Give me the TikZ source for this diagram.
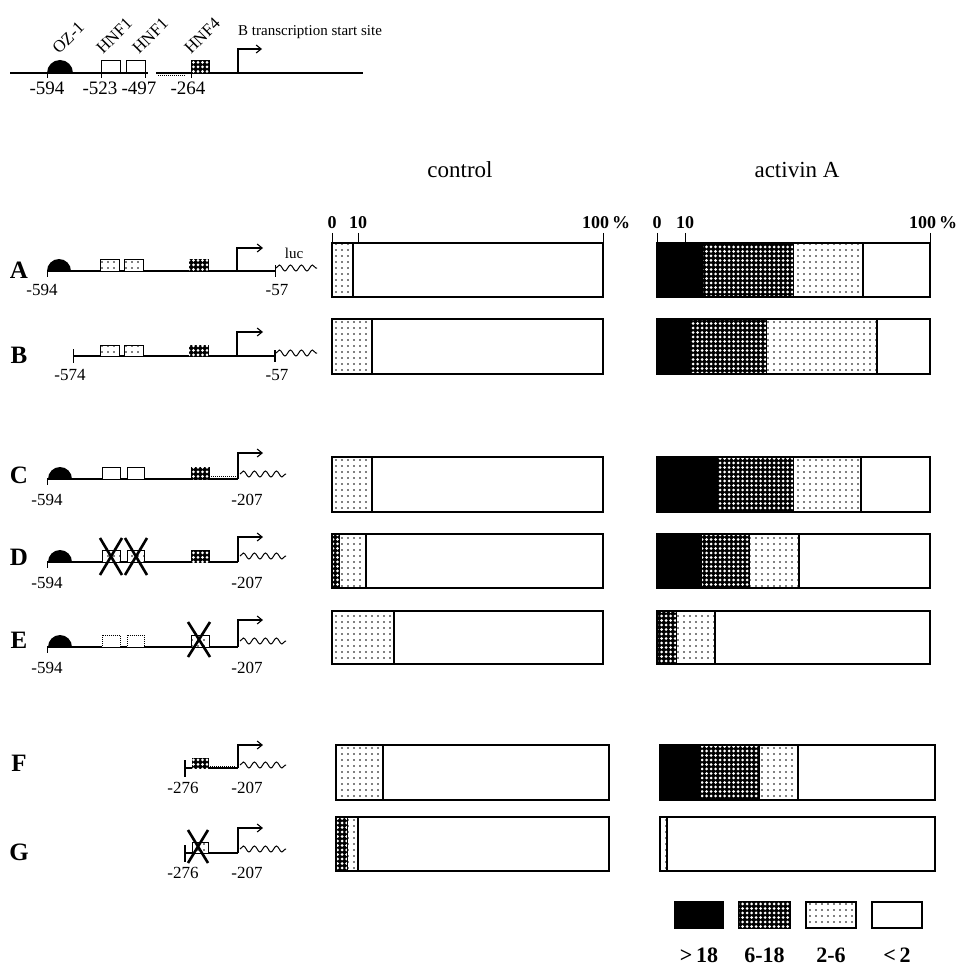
\documentclass[tikz,border=0pt]{standalone}
\usepackage{fontspec}
\setmainfont{Liberation Serif}
\usetikzlibrary{patterns.meta, decorations.pathmorphing, arrows.meta}

\begin{document}
\begin{tikzpicture}[x=1pt, y=-1pt,
  blkfill/.style={fill=black},
  dkfill/.style={fill=black, postaction={pattern={Dots[distance=4.5pt, radius=1.5pt]}, pattern color=white}},
  ltfill/.style={fill=white, postaction={pattern={Dots[distance=6pt, radius=0.85pt]}, pattern color=black}},
  whfill/.style={fill=white},
  dna/.style={line width=1.2pt},
  tss/.style={line width=1.1pt, -{Straight Barb[length=5pt, width=8pt]}},
  luc/.style={line width=1pt, decorate, decoration={snake, segment length=11pt, amplitude=3pt}},
  knock/.style={line width=2.6pt},
  sitelab/.style={inner sep=0, font=\fontsize{17}{17}\selectfont},
  rowlab/.style={font=\fontsize{25}{25}\selectfont\bfseries},
  scalelab/.style={inner sep=0, font=\fontsize{18}{18}\selectfont\bfseries},
  head/.style={font=\fontsize{23}{23}\selectfont}]
  \useasboundingbox (0,0) rectangle (964,976);

  % promoter map
  \draw[dna] (10,73) -- (148,73) (156,73) -- (363,73);
  \draw[densely dotted, line width=1pt] (158,76) -- (186,76);
  \fill (47,73) arc[start angle=180, end angle=360, radius=13];
  \foreach \x in {47,101,145,191}
    \draw[line width=1pt] (\x,73) -- (\x,78);
  \draw[whfill, line width=1pt] (101,61) rectangle (120,73);
  \draw[whfill, line width=1pt] (126,61) rectangle (145,73);
  \draw[dkfill, line width=1pt] (191,61) rectangle (209,73);
  \draw[tss] (238,73) -- (238,49) -- (262,49);
  \node[anchor=west, inner sep=0, font=\fontsize{15}{15}\selectfont] (tsslab) at (238,32) {B transcription start site};
  \foreach \x/\name/\txt in {59/oz/OZ-1, 103/hnfa/HNF1, 139/hnfb/HNF1, 191/hnfc/HNF4}
    \node[anchor=base west, inner sep=0, rotate=45, font=\fontsize{17}{17}\selectfont] (\name) at (\x,55) {\txt};
  \foreach \x/\txt [count=\i] in {47/-594, 100/-523, 139/-497, 188/-264}
    \node[sitelab, font=\fontsize{19}{19}\selectfont] (top\i) at (\x,88) {\txt};

  % column headers and scales
  \node[head] (control) at (460,170) {control};
  \node[head] (activin) at (797,170) {activin A};
  \foreach \xa/\xb/\xc/\name in {332/358/603/ctl, 657/685/930/act} {
    \draw[line width=1pt] (\xa,233) -- (\xa,243) (\xb,233) -- (\xb,243) (\xc,233) -- (\xc,243);
    \node[scalelab] (\name0) at (\xa,223) {0};
    \node[scalelab] (\name10) at (\xb,223) {10};
    \node[scalelab, anchor=west] (\name100) at (\xc-21,223) {100\,\%};
  }

  % row labels
  \foreach \y/\txt in {270/A, 355/B, 475/C, 557/D, 640/E, 763/F, 852/G}
    \node[rowlab] (row\txt) at (19,\y) {\txt};

  % bar segments
  \foreach \ya/\yb/\xa/\xb/\kind in {
      243/297/332/353/ltfill, 319/374/332/372/ltfill, 457/512/332/372/ltfill,
      534/588/332/340/dkfill, 534/588/340/366/ltfill, 611/664/332/394/ltfill,
      745/800/336/383/ltfill, 817/871/336/348/dkfill, 817/871/348/358/ltfill,
      243/297/657/703/blkfill, 243/297/703/794/dkfill, 243/297/794/863/ltfill,
      319/374/657/690/blkfill, 319/374/690/767/dkfill, 319/374/767/877/ltfill,
      457/512/657/718/blkfill, 457/512/718/794/dkfill, 457/512/794/861/ltfill,
      534/588/657/702/blkfill, 534/588/702/750/dkfill, 534/588/750/799/ltfill,
      611/664/657/677/dkfill, 611/664/677/715/ltfill,
      745/800/660/701/blkfill, 745/800/701/760/dkfill, 745/800/760/798/ltfill,
      817/871/660/667/ltfill}
    {\path[\kind] (\xa,\ya) rectangle (\xb,\yb);
     \draw[line width=1.4pt] (\xb,\ya) -- (\xb,\yb);}
  \draw[line width=2.4pt] (353,243) -- (353,297) (366,534) -- (366,588) (877,319) -- (877,374);

  % bar frames
  \foreach \ya/\yb in {243/297, 319/374, 457/512, 534/588, 611/664}
    \draw[line width=1.4pt] (332,\ya) rectangle (603,\yb) (657,\ya) rectangle (930,\yb);
  \foreach \ya/\yb in {745/800, 817/871}
    \draw[line width=1.4pt] (336,\ya) rectangle (609,\yb) (660,\ya) rectangle (935,\yb);

  % construct A
  \draw[dna] (47,271) -- (275,271);
  \draw[line width=1pt] (47,271) -- (47,277) (275,265) -- (275,277);
  \fill (47,271) arc[start angle=180, end angle=360, radius=12];
  \draw[ltfill, line width=1pt] (100,259) rectangle (119,271);
  \draw[ltfill, line width=1pt] (124,259) rectangle (143,271);
  \draw[dkfill, line width=1pt] (189,259) rectangle (208,271);
  \draw[tss] (237,271) -- (237,248) -- (263,248);
  \draw[luc] (276,268) -- (317,268);
  \node[sitelab, font=\fontsize{15}{15}\selectfont] (lucA) at (294,253) {luc};
  \node[sitelab] (startA) at (42,290) {-594};
  \node[sitelab] (endA) at (277,290) {-57};

  % construct B
  \draw[dna] (73,356) -- (275,356);
  \draw[line width=1pt] (73,349) -- (73,363);
  \draw[line width=2pt] (275,350) -- (275,362);
  \draw[ltfill, line width=1pt] (100,345) rectangle (119,356);
  \draw[ltfill, line width=1pt] (124,345) rectangle (143,356);
  \draw[dkfill, line width=1pt] (189,345) rectangle (208,356);
  \draw[tss] (237,356) -- (237,332) -- (263,332);
  \draw[luc] (276,353) -- (317,353);
  \node[sitelab] (startB) at (70,375) {-574};
  \node[sitelab] (endB) at (277,375) {-57};

  % construct C
  \draw[dna] (47,479) -- (238,479);
  \draw[line width=1pt] (47,479) -- (47,485);
  \fill (48,479) arc[start angle=180, end angle=360, radius=12];
  \draw[whfill, line width=1pt] (102,467) rectangle (120,479);
  \draw[whfill, line width=1pt] (127,467) rectangle (144,479);
  \draw[dkfill, line width=1pt] (191,467) rectangle (209,479);
  \draw[densely dotted, line width=1pt] (211,476) -- (236,476);
  \draw[tss] (238,479) -- (238,453) -- (263,453);
  \draw[luc] (240,474) -- (286,474);
  \node[sitelab] (startC) at (47,500) {-594};
  \node[sitelab] (endC) at (247,500) {-207};

  % construct D
  \draw[line width=2pt] (47,562) -- (238,562);
  \draw[line width=1pt] (47,562) -- (47,568);
  \fill (48,562) arc[start angle=180, end angle=360, radius=12];
  \draw[ltfill, line width=1pt] (102,550) rectangle (120,562);
  \draw[ltfill, line width=1pt] (127,550) rectangle (144,562);
  \draw[knock] (100,538) -- (122,575) (122,538) -- (100,575);
  \draw[knock] (125,538) -- (147,575) (147,538) -- (125,575);
  \draw[dkfill, line width=1pt] (191,550) rectangle (209,562);
  \draw[tss] (238,562) -- (238,537) -- (263,537);
  \draw[luc] (240,556) -- (286,556);
  \node[sitelab] (startD) at (47,583) {-594};
  \node[sitelab] (endD) at (247,583) {-207};

  % construct E
  \draw[dna] (47,647) -- (170,647);
  \draw[line width=2pt] (170,647) -- (238,647);
  \draw[line width=1pt] (47,647) -- (47,653);
  \fill (48,647) arc[start angle=180, end angle=360, radius=12];
  \draw[whfill, line width=1pt, densely dotted] (102,635) rectangle (120,647);
  \draw[whfill, line width=1pt, densely dotted] (127,635) rectangle (144,647);
  \draw[ltfill, line width=1pt] (191,635) rectangle (209,647);
  \draw[knock] (188,622) -- (210,657) (210,622) -- (188,657);
  \draw[tss] (238,647) -- (238,620) -- (263,620);
  \draw[luc] (240,641) -- (286,641);
  \node[sitelab] (startE) at (47,668) {-594};
  \node[sitelab] (endE) at (247,668) {-207};

  % construct F
  \draw[dna] (185,768) -- (238,768);
  \draw[line width=2pt] (185,760) -- (185,777);
  \draw[dkfill, line width=1pt] (192,758) rectangle (208,768);
  \draw[densely dotted, line width=1pt] (210,766) -- (236,766);
  \draw[tss] (238,768) -- (238,745) -- (263,745);
  \draw[luc] (240,765) -- (286,765);
  \node[sitelab] (startF) at (183,788) {-276};
  \node[sitelab] (endF) at (247,788) {-207};

  % construct G
  \draw[dna] (185,853) -- (238,853);
  \draw[line width=2pt] (185,845) -- (185,862);
  \draw[ltfill, line width=1pt] (192,842) rectangle (208,853);
  \draw[knock] (188,830) -- (208,863) (208,830) -- (188,863);
  \draw[tss] (238,853) -- (238,828) -- (263,828);
  \draw[luc] (240,849) -- (286,849);
  \node[sitelab] (startG) at (183,873) {-276};
  \node[sitelab] (endG) at (247,873) {-207};

  % legend
  \foreach \xa/\xb/\kind/\txt [count=\i] in {675/723/blkfill/{>\,18}, 739/790/dkfill/6-18, 806/856/ltfill/2-6, 872/922/whfill/{<\,2}} {
    \draw[\kind, line width=1.4pt] (\xa,902) rectangle (\xb,928);
    \node[font=\fontsize{22}{22}\selectfont\bfseries] (key\i) at ({(\xa+\xb)/2},955) {\txt};
  }
\end{tikzpicture}
\end{document}
